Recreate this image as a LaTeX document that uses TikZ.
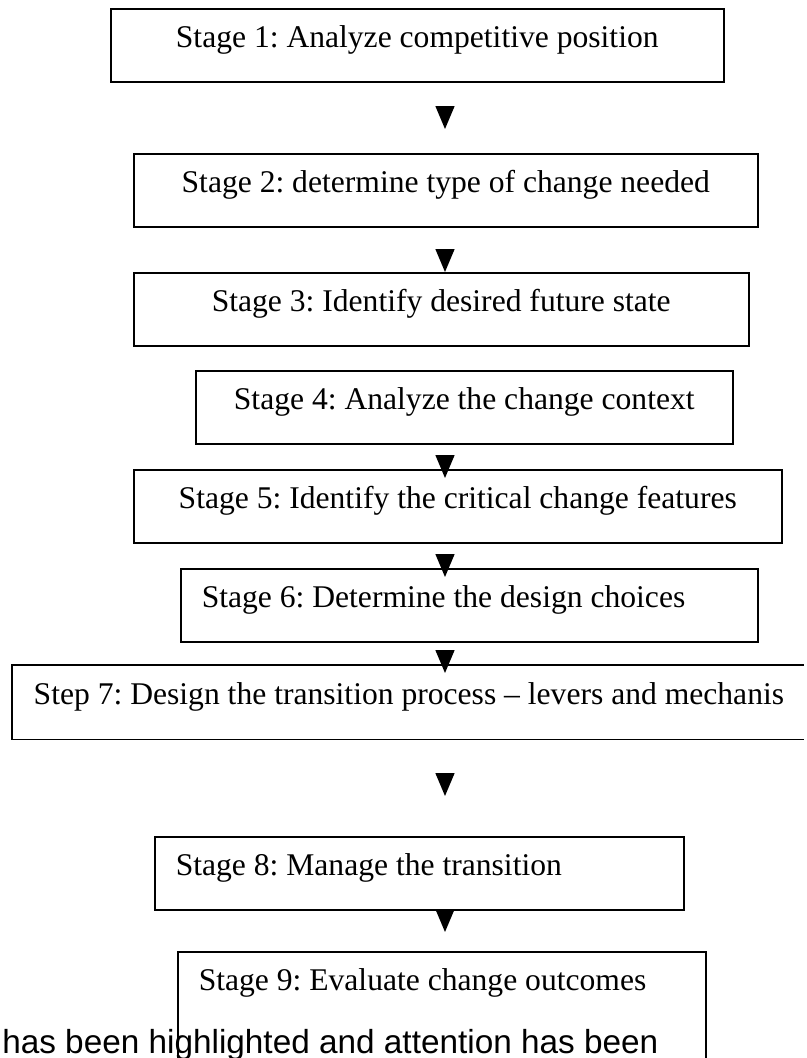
\documentclass[tikz,border=0pt]{standalone}
\usepackage{fontspec}
\setmainfont{Liberation Serif}
\newfontfamily\notefont{Liberation Sans}
\usetikzlibrary{arrows.meta}
\frenchspacing
% one pixel of the drawing grid
\newdimen\pxl \pxl=0.75pt
% left-set label with a fixed inner margin
\newcommand\padleft[2]{\makebox[#1\pxl][l]{\hspace*{21\pxl}#2}}
\begin{document}
\begin{tikzpicture}[x=0.75pt,y=-0.75pt,
  stage/.style={draw, line width=1.125pt, anchor=north west, inner xsep=0pt, inner ysep=0pt,
    text height=39\pxl, text depth=34\pxl, font=\fontsize{23.7pt}{28pt}\selectfont},
  flow/.style={line width=1.125pt, -{Triangle[length=17.25pt,width=14.25pt]}},
  edge/.style={line width=1.125pt}]
\useasboundingbox (0,0) rectangle (807,1058);
\clip (0,0) rectangle (807,1058);

% stages
\node[stage, minimum width=613\pxl] (s1) at (110,8) {Stage 1: Analyze competitive position};
\node[stage, minimum width=624\pxl] (s2) at (133,153) {Stage 2: determine type of change needed};
\node[stage, minimum width=615\pxl] (s3) at (133,272) {Stage 3: Identify desired future state};
\node[stage, minimum width=537\pxl] (s4) at (195,370) {Stage 4: Analyze the change context};
\node[stage, minimum width=648\pxl] (s5) at (133,469) {Stage 5: Identify the critical change features};
\node[stage] (s6) at (180,568) {\padleft{577}{Stage 6: Determine the design choices}};
\node[stage, draw=none] (s7) at (12,665) {\padleft{790}{Step 7: Design the transition process – levers and mechanis}};
\draw[edge] (s7.north east) -- (s7.north west) -- (s7.south west) -- (s7.south east);
\node[stage] (s8) at (154,836) {\padleft{529}{Stage 8: Manage the transition}};
\node[stage, text depth=160\pxl] (s9) at (177,951) {\padleft{528}{Stage 9: Evaluate change outcomes}};

% running text below the chart
\node[font=\notefont\fontsize{25pt}{30pt}\selectfont, anchor=base west, inner sep=0pt] (note) at (2,1053)
  {has been highlighted and attention has been};

% flow arrows, all on one vertical line
\coordinate (ax) at (445,0);
\draw[flow, shorten <=18.75pt, shorten >=18pt] (s1.south -| ax) -- (s2.north -| ax);
\draw[flow, shorten <=17.25pt] (s2.south -| ax) -- (s3.north -| ax);
\draw[flow, shorten <=9pt, shorten >=-6.75pt] (s4.south -| ax) -- (s5.north -| ax);
\draw[flow, shorten <=9pt, shorten >=-6.75pt] (s5.south -| ax) -- (s6.north -| ax);
\draw[flow, shorten <=6.75pt, shorten >=-6pt] (s6.south -| ax) -- (s7.north -| ax);
\draw[flow, shorten <=26.25pt, shorten >=30pt] (s7.south -| ax) -- (s8.north -| ax);
\draw[flow, shorten >=14.25pt] (s8.south -| ax) -- (s9.north -| ax);
\end{tikzpicture}
\end{document}
